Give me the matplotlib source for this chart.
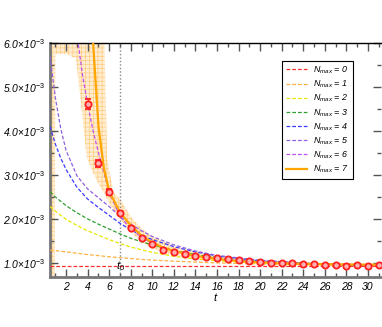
import numpy as np
import matplotlib
matplotlib.use("Agg")
import matplotlib.pyplot as plt
from matplotlib.ticker import MultipleLocator, FuncFormatter

plt.rcParams["font.family"] = ["Liberation Sans", "DejaVu Sans"]
plt.rcParams["mathtext.fontset"] = "custom"
plt.rcParams["mathtext.it"] = "Liberation Sans:italic"
plt.rcParams["mathtext.rm"] = "Liberation Sans"
plt.rcParams["hatch.linewidth"] = 0.4

SCALE = 1e-3  # all values below are in units of 1e-3

# data points (t, value, error)
t_data = list(range(4, 32))
y_data = [4.61, 3.27, 2.61, 2.14, 1.80, 1.57, 1.43, 1.30, 1.25, 1.20, 1.16, 1.14, 1.11,
          1.09, 1.06, 1.04, 1.02, 1.00, 1.00, 0.99, 0.98, 0.97, 0.96, 0.95, 0.94, 0.95,
          0.94, 0.95]
e_data = [0.12, 0.08, 0.06, 0.05, 0.04, 0.03, 0.03, 0.03, 0.02, 0.02, 0.02, 0.02, 0.02,
          0.02, 0.02, 0.02, 0.02, 0.02, 0.02, 0.02, 0.02, 0.02, 0.02, 0.02, 0.02, 0.02,
          0.02, 0.02]

# fit curves
t_grid = [0.5, 1, 1.5, 2, 3, 4, 5, 6, 7, 8, 9, 10, 12, 14, 16, 20, 25, 31.2]
fit_n0 = [0.925] * len(t_grid)
fit_n1 = [1.29, 1.28, 1.265, 1.25, 1.22, 1.19, 1.165, 1.14, 1.12, 1.10, 1.08, 1.065, 1.04,
          1.02, 1.00, 0.975, 0.955, 0.94]
fit_n2 = [2.28, 2.18, 2.08, 1.99, 1.85, 1.73, 1.63, 1.53, 1.44, 1.36, 1.30, 1.24, 1.15,
          1.09, 1.05, 0.99, 0.96, 0.94]
fit_n3 = [2.62, 2.50, 2.40, 2.30, 2.14, 2.00, 1.88, 1.77, 1.66, 1.56, 1.48, 1.41, 1.28,
          1.19, 1.12, 1.03, 0.97, 0.945]
fit_n4 = [4.10, 3.70, 3.38, 3.12, 2.72, 2.45, 2.26, 2.08, 1.90, 1.75, 1.63, 1.53, 1.37,
          1.25, 1.16, 1.05, 0.98, 0.95]
fit_n5 = [5.70, 4.75, 4.05, 3.55, 2.98, 2.68, 2.48, 2.28, 2.06, 1.88, 1.73, 1.60, 1.41,
          1.27, 1.17, 1.06, 0.985, 0.95]

t_n6 = [2.5, 3, 3.5, 4, 4.5, 5, 6, 7, 8, 9, 10, 12, 14, 16, 20, 25, 31.2]
fit_n6 = [7.0, 6.2, 5.3, 4.6, 4.0, 3.5, 2.6, 2.05, 1.78, 1.58, 1.45, 1.27, 1.16, 1.10,
          1.02, 0.97, 0.95]

t_n7 = [4.3, 4.5, 5, 5.5, 6, 7, 8, 9, 10, 11, 12, 14, 16, 18, 20, 24, 28, 31.2]
fit_n7 = [7.0, 6.0, 4.1, 3.15, 2.62, 2.15, 1.85, 1.62, 1.46, 1.35, 1.27, 1.16, 1.09, 1.04,
          1.01, 0.98, 0.965, 0.96]

# error band of the N_max = 7 fit
t_band = [0.5, 0.95, 1.0, 2.0, 2.9, 3.4, 3.9, 4.5, 5.0, 5.5, 5.8, 6.0, 6.4, 7.0, 8.0, 9.0,
          10, 12, 14, 16, 18, 20, 25, 31.2]
band_lo = [0.5, 0.5, 5.75, 5.75, 5.65, 4.6, 3.4, 3.05, 2.8, 2.6, 2.45, 2.35, 2.2, 2.0, 1.70,
           1.48, 1.32, 1.17, 1.10, 1.05, 1.01, 0.98, 0.95, 0.93]
band_hi = [7, 7, 7, 7, 7, 7, 7, 7, 7, 6.5, 3.4, 3.1, 2.6, 2.45, 2.05, 1.78, 1.60, 1.38,
           1.26, 1.18, 1.11, 1.06, 1.00, 0.96]

t0 = 7

def sc(v):
    return np.array(v) * SCALE

fig = plt.figure(figsize=(3.82, 3.27), dpi=100)
ax = fig.add_axes([0.1309, 0.1529, 0.866, 0.7156])

ax.fill_between(t_band, sc(band_lo), sc(band_hi), facecolor=(1.0, 0.93, 0.82),
                edgecolor=(1.0, 0.78, 0.45), hatch="++++", linewidth=0, zorder=1)

dash = (0, (3, 1.6))
curves = [
    (t_grid, fit_n0, "#ff3030"),
    (t_grid, fit_n1, "#ffb040"),
    (t_grid, fit_n2, "#e8e800"),
    (t_grid, fit_n3, "#30a030"),
    (t_grid, fit_n4, "#3a3aff"),
    (t_grid, fit_n5, "#9060e0"),
    (t_n6, fit_n6, "#c050f0"),
]
for i, (tt, vv, c) in enumerate(curves):
    ax.plot(tt, sc(vv), linestyle=dash, color=c, lw=0.9, zorder=3,
            label=r"$N_{max}$ = %d" % i)
ax.plot(t_n7, sc(fit_n7), color="#ffa500", lw=1.6, zorder=4, label=r"$N_{max}$ = 7")

ax.axvline(t0, color="#888888", ls=(0, (1, 1.5)), lw=1.0, zorder=2)
ax.text(t0, 0.93e-3, r"$t_0$", ha="center", va="center", fontsize=8, zorder=5)

ax.errorbar(t_data, sc(y_data), yerr=sc(e_data), fmt="o", ms=4.5, mfc="#ffb0b0",
            mec="#ff2020", mew=1.3, ecolor="#ff2020", elinewidth=1.0, capsize=2,
            zorder=6)

ax.set_xlim(0.5, 31.2)
ax.set_ylim(0.68e-3, 6.0e-3)

ax.xaxis.set_major_locator(MultipleLocator(2))
ax.xaxis.set_minor_locator(MultipleLocator(1))
ax.yaxis.set_major_locator(MultipleLocator(1e-3))
ax.yaxis.set_minor_locator(MultipleLocator(0.5e-3))
ax.yaxis.set_major_formatter(FuncFormatter(lambda v, p: r"%.1f$\times$10$^{-3}$" % (v * 1e3)))

ax.tick_params(which="both", direction="in", top=True, right=True, color="#555555",
               labelsize=7.5, width=1.0)
ax.tick_params(which="major", length=6)
ax.tick_params(which="minor", length=3)
for lab in ax.get_xticklabels() + ax.get_yticklabels():
    lab.set_style("italic")

ax.spines["left"].set_color("#777777")
ax.spines["left"].set_linewidth(2)
ax.spines["bottom"].set_color("#777777")
ax.spines["bottom"].set_linewidth(2)
ax.spines["top"].set_linewidth(1)
ax.spines["right"].set_visible(False)

ax.set_xlabel("t", style="italic", fontsize=8, labelpad=1)

leg = ax.legend(loc="upper left", bbox_to_anchor=(0.702, 0.925),
                prop={"style": "italic", "size": 6.4}, fancybox=False, edgecolor="black",
                framealpha=1, handlelength=2.3, labelspacing=0.3, borderpad=0.45,
                handletextpad=0.7, borderaxespad=0)
leg.get_frame().set_linewidth(0.8)

fig.savefig("out.png", dpi=100)
